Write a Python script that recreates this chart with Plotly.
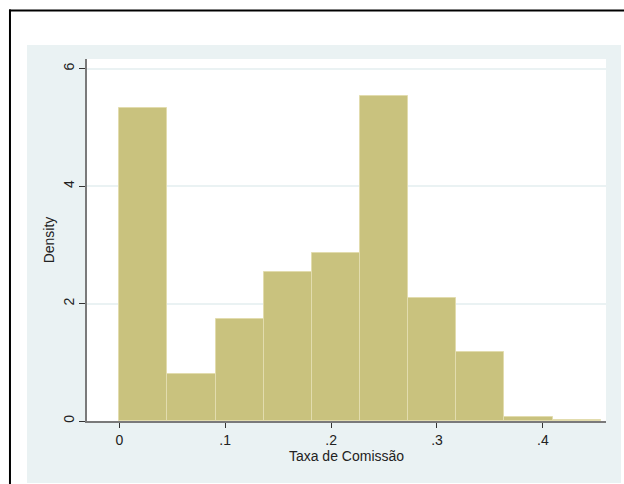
import plotly.graph_objects as go

# Data: histogram of commission rate (density)
bin_edges = [0.0, 0.04545, 0.09091, 0.13636, 0.18182, 0.22727,
             0.27273, 0.31818, 0.36364, 0.40909, 0.45455]
density = [5.34, 0.80, 1.73, 2.54, 2.87, 5.54, 2.10, 1.18, 0.06, 0.02]
x_tickvals = [0, 0.1, 0.2, 0.3, 0.4]
x_ticktext = ["0", ".1", ".2", ".3", ".4"]
y_tickvals = [0, 2, 4, 6]
y_ticktext = ["0", "2", "4", "6"]

centers = [(a + b) / 2 for a, b in zip(bin_edges[:-1], bin_edges[1:])]
widths = [b - a for a, b in zip(bin_edges[:-1], bin_edges[1:])]

FONT = "Liberation Sans, Arial, sans-serif"
LIGHT = "#EAF2F3"

fig = go.Figure()
fig.add_trace(go.Bar(
    x=centers, y=density, width=widths,
    marker=dict(color="#C9C27E", line=dict(color="#E2DCAE", width=1)),
))

# full-window figure (page margin removed below)
fig.update_layout(
    width=624, height=484,
    margin=dict(l=87, r=18, t=59, b=63),
    paper_bgcolor="white", plot_bgcolor="white",
    showlegend=False,
    hovermode=False,
    font=dict(family=FONT, size=14, color="#222"),
    bargap=0,
    shapes=[
        # outer graph region (light)
        dict(type="rect", xref="paper", yref="paper", layer="below",
             x0=-0.1156, x1=1.0289, y0=-0.1713, y1=1.0387,
             fillcolor=LIGHT, line=dict(width=0)),
        # plot region white
        dict(type="rect", xref="paper", yref="paper", layer="below",
             x0=0, x1=1, y0=0, y1=1,
             fillcolor="white", line=dict(width=0)),
        # black frame: top and left edges
        dict(type="line", xref="paper", yref="paper", layer="below",
             x0=-0.1503, x1=1.0347, y0=1.134, y1=1.134,
             line=dict(color="black", width=2)),
        dict(type="line", xref="paper", yref="paper", layer="below",
             x0=-0.1484, x1=-0.1484, y0=1.1368, y1=-0.174,
             line=dict(color="black", width=2)),
    ],
)

fig.update_xaxes(
    range=[-0.0305, 0.4596],
    tickvals=x_tickvals, ticktext=x_ticktext,
    ticks="outside", ticklen=5, tickcolor="#333", tickwidth=1,
    showline=True, linecolor="#7a7a7a", linewidth=1.5,
    showgrid=False, zeroline=False,
    tickfont=dict(family=FONT, size=14, color="#222"),
    title=dict(text="Taxa de Comissão", standoff=0,
               font=dict(family=FONT, size=14, color="#222")),
)
fig.update_yaxes(
    range=[0, 6.167],
    tickvals=y_tickvals, ticktext=y_ticktext, tickangle=-90,
    ticks="outside", ticklen=6, tickcolor="#333", tickwidth=1,
    showline=True, linecolor="#7a7a7a", linewidth=1.5,
    showgrid=True, gridcolor=LIGHT, gridwidth=1.5,
    zeroline=False,
    tickfont=dict(family=FONT, size=14, color="#222"),
    title=dict(text="Density", standoff=3,
               font=dict(family=FONT, size=14, color="#222")),
)

fig.write_html("out.html",
               config={"displayModeBar": False},
               post_script="document.body.style.margin='0px';"
                           "document.documentElement.style.overflow='hidden';")
